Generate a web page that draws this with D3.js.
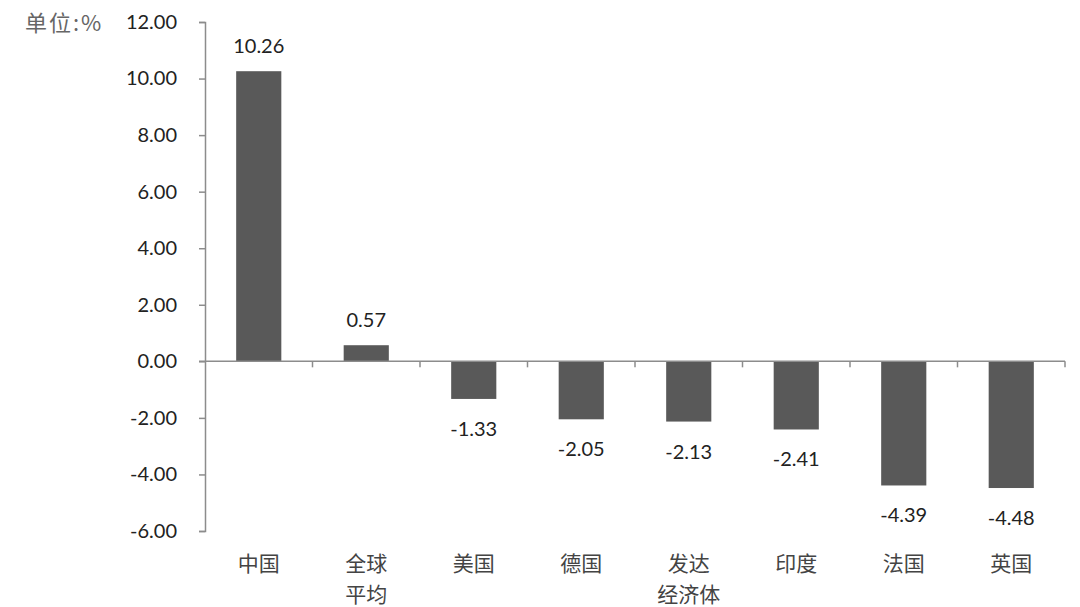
<!DOCTYPE html>
<html><head><meta charset="utf-8">
<script src="https://cdn.jsdelivr.net/npm/d3@7"></script>
<style>body{margin:0;background:#fff;}</style>
</head><body>
<svg id="c" width="1080" height="607"></svg>
<script>
const categories = [["中国"],["全球","平均"],["美国"],["德国"],["发达","经济体"],["印度"],["法国"],["英国"]];
const values = [10.26, 0.57, -1.33, -2.05, -2.13, -2.41, -4.39, -4.48];
const yTicks = [12, 10, 8, 6, 4, 2, 0, -2, -4, -6];

(function(){
const svg = d3.select("#c");
const mLeft = 205, mRight = 1065, mTop = 22, mBottom = 531;
const keys = categories.map((d,i)=>i);
const x = d3.scaleBand().domain(keys).range([mLeft, mRight]).paddingInner(0).paddingOuter(0);
const y = d3.scaleLinear().domain([-6, 12]).range([mBottom, mTop]);
const axisColor = "#8c8c8c";
const numFont = "Lato, 'Open Sans', sans-serif";
const fmt = d => d3.format(".2f")(d).replace("\u2212", "-");

// y axis
const ya = svg.append("g").attr("transform", `translate(${mLeft},0)`)
  .call(d3.axisLeft(y).tickValues(yTicks).tickSize(6).tickSizeOuter(6).tickFormat(fmt));
ya.select(".domain").attr("stroke", axisColor).attr("stroke-width", 1.5);
ya.selectAll(".tick line").attr("stroke", axisColor).attr("stroke-width", 1.5);
ya.selectAll(".tick text").attr("fill", "#222").attr("font-size", 20).attr("font-family", numFont).attr("x", -28);

// bars
svg.append("g").selectAll("rect").data(values).join("rect")
  .attr("x", (d,i)=> x(i) + x.bandwidth()*0.29)
  .attr("width", x.bandwidth()*0.42)
  .attr("y", d => y(Math.max(0,d)))
  .attr("height", d => Math.abs(y(d)-y(0)))
  .attr("fill", "#595959");

// x axis at zero
const xa = svg.append("g").attr("transform", `translate(0,${y(0)})`)
  .call(d3.axisBottom(x).tickSize(0).tickFormat(""));
xa.select(".domain").attr("stroke", axisColor).attr("stroke-width", 1.5).attr("d", `M${mLeft-6},0H${mRight}`);
const bounds = keys.map(i => x(i) + x.bandwidth());
svg.append("g").selectAll("line").data(bounds).join("line")
  .attr("x1", d=>d).attr("x2", d=>d).attr("y1", y(0)).attr("y2", y(0)+6)
  .attr("stroke", axisColor).attr("stroke-width", 1.5);

// value labels
svg.append("g").selectAll("text").data(values).join("text")
  .attr("x", (d,i)=> x(i) + x.bandwidth()/2)
  .attr("y", d => d >= 0 ? y(d) - 18 : y(d) + 37)
  .attr("text-anchor", "middle")
  .attr("font-family", numFont).attr("font-size", 20).attr("fill", "#222")
  .text(fmt);

// category labels
const cl = svg.append("g").selectAll("text").data(categories).join("text")
  .attr("x", (d,i)=> x(i) + x.bandwidth()/2)
  .attr("y", 571)
  .attr("text-anchor", "middle")
  .attr("font-family", "'Noto Sans CJK SC', sans-serif").attr("font-size", 21).attr("fill", "#444");
cl.selectAll("tspan").data(d=>d).join("tspan")
  .attr("x", function(){ return d3.select(this.parentNode).attr("x"); })
  .attr("dy", (d,i)=> i===0 ? 0 : 31)
  .text(d=>d);

// unit label
svg.append("text").attr("x", 25).attr("y", 31)
  .attr("font-family", "'Noto Sans CJK SC', sans-serif").attr("font-size", 22).attr("fill", "#666")
  .attr("letter-spacing", 2)
  .text("单位:%");
})();
</script>
</body></html>
